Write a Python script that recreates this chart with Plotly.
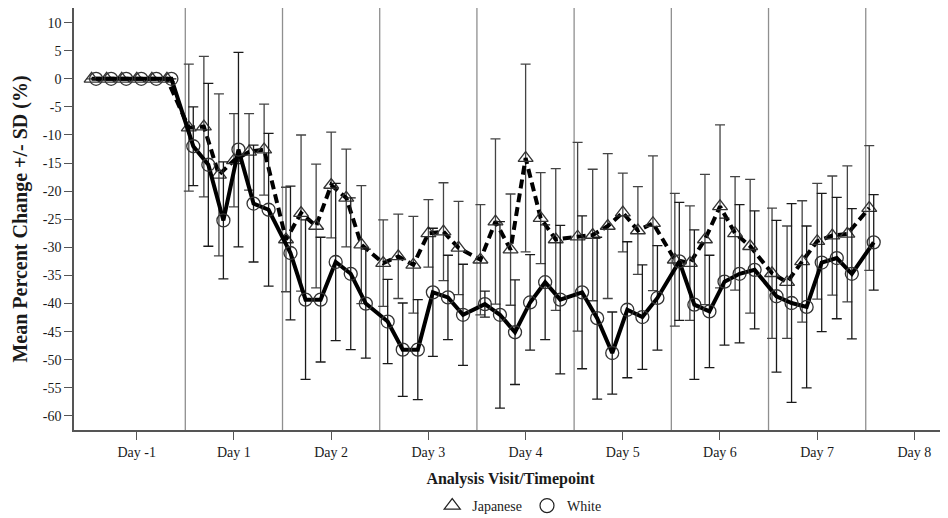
import plotly.graph_objects as go

# ---------------- data ----------------
visit_labels = ["Day -1", "Day 1", "Day 2", "Day 3", "Day 4", "Day 5", "Day 6", "Day 7", "Day 8"]
visit_index = [0, 1, 2, 3, 4, 5, 6, 7, 8]
timepoints_per_visit = [6, 6, 6, 6, 6, 6, 6, 6, 1]
# time of each sampling point within a visit, as a fraction of a day relative to the visit tick
timepoint_frac = [-0.418, -0.263, -0.108, 0.047, 0.202, 0.357]

japanese_mean = [
    0, 0, 0, 0, 0, 0,
    -8.7, -8.5, -17.1, -14.5, -13.0, -12.6,
    -28.6, -23.9, -26.2, -18.9, -21.2, -29.5,
    -32.8, -31.6, -33.1, -27.5, -27.2, -30.1,
    -32.2, -25.4, -30.4, -14.1, -24.8, -28.6,
    -28.1, -27.8, -26.2, -23.8, -27.0, -25.7,
    -32.2, -32.8, -28.6, -22.7, -27.5, -29.8,
    -34.6, -36.2, -32.5, -28.9, -27.9, -27.6,
    -23.0,
]
japanese_sd = [
    0, 0, 0, 0, 0, 0,
    11.3, 12.5, 14.4, 8.3, 6.8, 8.1,
    9.3, 13.9, 11.0, 9.4, 8.7, 10.5,
    7.7, 7.5, 8.6, 6.0, 8.7, 8.3,
    9.8, 14.7, 9.9, 16.7, 8.1, 12.6,
    16.8, 11.7, 12.9, 7.0, 7.8, 12.0,
    11.8, 10.2, 11.6, 14.5, 10.1, 11.9,
    11.6, 10.0, 10.8, 10.3, 10.6, 12.1,
    11.1,
]
white_mean = [
    0, 0, 0, 0, 0, 0,
    -12.0, -15.3, -25.2, -12.6, -22.2, -23.3,
    -31.0, -39.3, -39.3, -32.6, -34.7, -40.0,
    -43.2, -48.2, -48.2, -38.0, -38.9, -42.0,
    -40.1, -42.0, -45.1, -39.8, -36.2, -39.3,
    -38.0, -42.6, -48.8, -41.1, -42.4, -39.0,
    -32.5, -40.2, -41.4, -36.1, -34.7, -34.0,
    -38.7, -39.9, -40.6, -32.7, -31.9, -34.7,
    -29.1,
]
white_sd = [
    0, 0, 0, 0, 0, 0,
    7.0, 14.5, 10.4, 17.3, 10.4, 13.6,
    11.9, 14.2, 11.1, 14.0, 13.5, 9.7,
    7.5, 8.3, 8.9, 11.4, 7.5, 9.0,
    2.3, 16.6, 9.3, 8.5, 10.2, 13.2,
    13.6, 14.4, 7.3, 12.1, 9.3, 9.3,
    10.5, 13.3, 10.0, 11.3, 12.3, 10.5,
    13.5, 17.7, 14.4, 12.3, 10.8, 11.6,
    8.5,
]
y_ticks = list(range(-60, 11, 5))
y_tick_labels = [str(v) for v in y_ticks]

# ---------------- build x positions ----------------
x_white = []
for vi, n in zip(visit_index, timepoints_per_visit):
    for k in range(n):
        x_white.append(vi + timepoint_frac[k])
dodge = -0.046
x_japanese = [x + dodge for x in x_white]

SERIF = "Liberation Serif, Times New Roman, serif"

fig = go.Figure()

fig.add_trace(go.Scatter(
    x=x_japanese, y=japanese_mean, mode="lines+markers", name="Japanese", showlegend=False,
    line=dict(color="black", width=4, dash="9px,5px"),
    marker=dict(symbol="triangle-up-open", size=13, color="#333", line=dict(width=1.3)),
    error_y=dict(type="data", array=japanese_sd, visible=True, thickness=1.3, width=5, color="#444"),
))
fig.add_trace(go.Scatter(
    x=x_white, y=white_mean, mode="lines+markers", name="White", showlegend=False,
    line=dict(color="black", width=4),
    marker=dict(symbol="circle-open", size=13, color="#333", line=dict(width=1.3)),
    error_y=dict(type="data", array=white_sd, visible=True, thickness=1.3, width=5, color="#1a1a1a"),
))
# legend-only entries (marker only, as in the reference)
fig.add_trace(go.Scatter(x=[None], y=[None], mode="markers", name="Japanese",
                         marker=dict(symbol="triangle-up-open", size=14, color="#222", line=dict(width=1.2))))
fig.add_trace(go.Scatter(x=[None], y=[None], mode="markers", name="White",
                         marker=dict(symbol="circle-open", size=14, color="#222", line=dict(width=1.2))))

# vertical separators between visits
shapes = []
for a, b in zip(visit_index[:-1], visit_index[1:]):
    xm = (a + b) / 2
    shapes.append(dict(type="line", xref="x", yref="paper", x0=xm, x1=xm, y0=0, y1=1,
                       line=dict(color="#8f8f8f", width=1.3), layer="below"))

# the page body has an 8px margin, so the figure is sized to fit the 948x518 window
fig.update_layout(
    width=940, height=510,
    margin=dict(l=66, r=1, t=0, b=88, autoexpand=False),
    paper_bgcolor="white", plot_bgcolor="white",
    font=dict(family=SERIF, size=14, color="#1a1a1a"),
    shapes=shapes,
    showlegend=True,
    legend=dict(orientation="h", x=0.51, xanchor="center", y=-0.18, yanchor="middle",
                font=dict(family=SERIF, size=14), itemwidth=30, tracegroupgap=0),
    xaxis=dict(
        range=[-0.645, 8.336], tickmode="array", tickvals=visit_index, ticktext=visit_labels,
        showgrid=False, zeroline=False, showline=True, mirror=True, linecolor="#555", linewidth=1.5,
        ticks="outside", ticklen=8, tickcolor="#555", tickwidth=1.3, automargin=False,
        tickfont=dict(family=SERIF, size=14),
        title=dict(text="<b>Analysis Visit/Timepoint</b>", font=dict(family=SERIF, size=16), standoff=14),
    ),
    yaxis=dict(
        range=[-62.5, 12.6], tickmode="array", tickvals=y_ticks, ticktext=y_tick_labels,
        showgrid=False, zeroline=False, showline=True, mirror=True, linecolor="#555", linewidth=1.5,
        ticks="outside", ticklen=8, tickcolor="#555", tickwidth=1.3, automargin=False,
        tickfont=dict(family=SERIF, size=14),
        title=dict(text="<b>Mean Percent Change +/- SD (%)</b>", font=dict(family=SERIF, size=20), standoff=10),
    ),
)

fig.write_html("out.html")
